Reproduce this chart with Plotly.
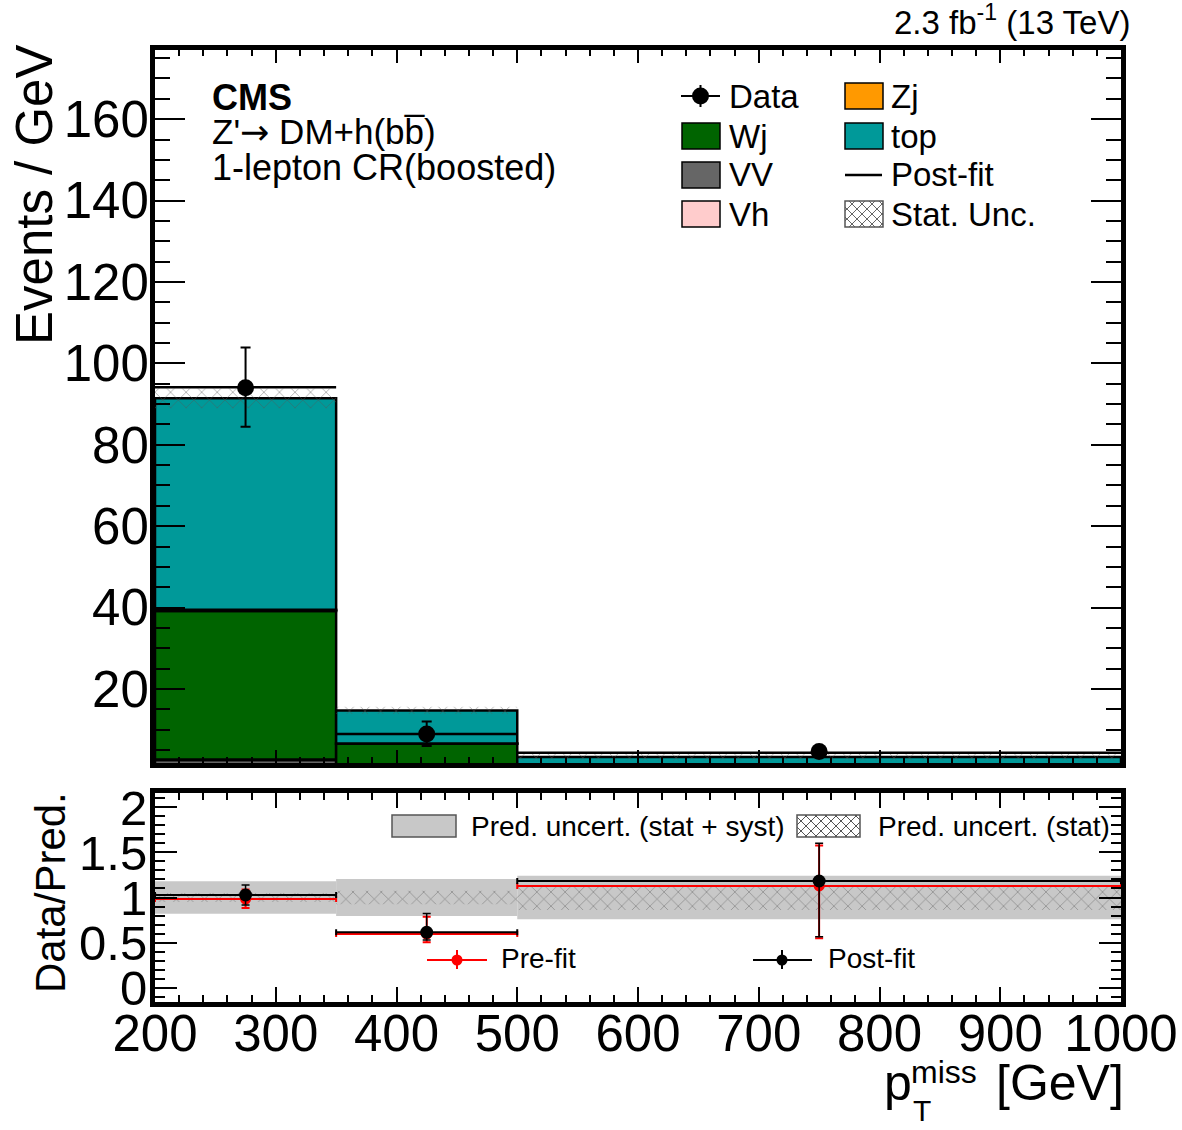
import numpy as np
import plotly.graph_objects as go

# ---------------- data ----------------
bin_edges = [200, 350, 500, 1000]
vv = [2.55, 0.2, 0.1]
vh = [0.1, 0.02, 0.01]
wj = [36.5, 6.3, 0.9]
zj = [0.3, 0.1, 0.05]
top = [51.95, 8.1, 2.24]
stat_unc = [2.4, 0.9, 0.9]
postfit = [94.1, 8.9, 4.3]
data = [94.0, 8.9, 4.6]
data_err_up = [9.9, 3.1, 0.9]
data_err_dn = [9.6, 2.9, 0.9]

ratio_post = [1.028, 0.613, 1.183]
ratio_post_up = [0.11, 0.21, 0.42]
ratio_post_dn = [0.11, 0.085, 0.62]
ratio_pre = [0.983, 0.594, 1.128]
ratio_pre_up = [0.107, 0.193, 0.45]
ratio_pre_dn = [0.10, 0.09, 0.58]
unc_syst = [0.18, 0.206, 0.242]
unc_stat = [0.05, 0.075, 0.14]

y_ticks_top = [20, 40, 60, 80, 100, 120, 140, 160]

# ---------------- layout helpers ----------------
W, H = 1182, 1130
ML, MR, MT, MB = 155, 61, 50, 128
PW = W - ML - MR
PH = H - MT - MB


def px(x):
    return (x - ML) / PW


def py(y):
    return (H - MB - y) / PH


FONT = "Liberation Sans, Arial, Helvetica, sans-serif"

edges = np.array(bin_edges, dtype=float)
centers = 0.5 * (edges[:-1] + edges[1:])
widths = np.diff(edges)
halfw = widths / 2

fig = go.Figure()

# ---------------- top panel stack ----------------
components = [
    ("VV", vv, "#666666"),
    ("Vh", vh, "#ffcccc"),
    ("Wj", wj, "#006400"),
    ("Zj", zj, "#ff9900"),
    ("top", top, "#009999"),
]
base = np.zeros(len(centers))
for name, vals, col in components:
    vals = np.array(vals, dtype=float)
    fig.add_trace(go.Bar(
        x=centers, y=vals, base=base, width=widths, name=name,
        marker=dict(color=col, line=dict(color="black", width=2.5)),
        xaxis="x", yaxis="y", showlegend=False, hoverinfo="skip"))
    base = base + vals
total = base

su = np.array(stat_unc)
fig.add_trace(go.Bar(
    x=centers, y=2 * su, base=total - su, width=widths, name="Stat. Unc.",
    marker=dict(color="rgba(0,0,0,0)", line=dict(width=0),
                pattern=dict(shape="x", fgcolor="#555555", bgcolor="rgba(0,0,0,0)",
                             size=11, solidity=0.15)),
    xaxis="x", yaxis="y", showlegend=False, hoverinfo="skip"))

# post-fit line per bin
pfx, pfy = [], []
for lo, hi, v in zip(edges[:-1], edges[1:], postfit):
    pfx += [lo, hi, None]
    pfy += [v, v, None]
fig.add_trace(go.Scatter(x=pfx, y=pfy, mode="lines", name="Post-fit",
                         line=dict(color="black", width=2.5),
                         xaxis="x", yaxis="y", showlegend=False, hoverinfo="skip"))

fig.add_trace(go.Scatter(
    x=centers, y=data, mode="markers", name="Data",
    marker=dict(color="black", size=17, symbol="circle"),
    error_y=dict(type="data", symmetric=False, array=data_err_up, arrayminus=data_err_dn,
                 color="black", thickness=2, width=5),
    xaxis="x", yaxis="y", showlegend=False, hoverinfo="skip"))

# ---------------- bottom panel ----------------
us = np.array(unc_syst)
fig.add_trace(go.Bar(
    x=centers, y=2 * us, base=1 - us, width=widths, name="Pred. uncert. (stat + syst)",
    marker=dict(color="#c8c8c8", line=dict(width=0)),
    xaxis="x2", yaxis="y2", showlegend=False, hoverinfo="skip"))
ut = np.array(unc_stat)
fig.add_trace(go.Bar(
    x=centers, y=2 * ut, base=1 - ut, width=widths, name="Pred. uncert. (stat)",
    marker=dict(color="rgba(0,0,0,0)", line=dict(width=0),
                pattern=dict(shape="x", fgcolor="#333333", bgcolor="rgba(0,0,0,0)",
                             size=10, solidity=0.12)),
    xaxis="x2", yaxis="y2", showlegend=False, hoverinfo="skip"))

fig.add_trace(go.Scatter(
    x=centers, y=ratio_pre, mode="markers", name="Pre-fit",
    marker=dict(color="red", size=11),
    error_x=dict(type="data", array=halfw, color="red", thickness=2, width=3),
    error_y=dict(type="data", symmetric=False, array=ratio_pre_up, arrayminus=ratio_pre_dn,
                 color="red", thickness=2, width=4),
    xaxis="x2", yaxis="y2", showlegend=False, hoverinfo="skip"))
fig.add_trace(go.Scatter(
    x=centers, y=ratio_post, mode="markers", name="Post-fit",
    marker=dict(color="black", size=13),
    error_x=dict(type="data", array=halfw, color="black", thickness=2, width=3),
    error_y=dict(type="data", symmetric=False, array=ratio_post_up, arrayminus=ratio_post_dn,
                 color="black", thickness=1.5, width=4),
    xaxis="x2", yaxis="y2", showlegend=False, hoverinfo="skip"))

# ---------------- axes ----------------
common = dict(showline=True, linewidth=5, linecolor="black", mirror="allticks",
              showgrid=False, zeroline=False, ticks="inside", tickcolor="black",
              tickwidth=1.5, automargin=False, ticklabeloverflow="allow")

fig.update_layout(
    width=W, height=H, autosize=False,
    margin=dict(l=ML, r=MR, t=MT, b=MB, autoexpand=False),
    paper_bgcolor="white", plot_bgcolor="white",
    barmode="overlay", showlegend=False,
    font=dict(family=FONT, color="black"),
    xaxis=dict(domain=[0, 1], range=[200, 1000], anchor="y", showticklabels=False,
               dtick=100, tick0=0, ticklen=13,
               minor=dict(ticks="inside", ticklen=6, dtick=20, tickwidth=1.5, tickcolor="black"),
               **common),
    yaxis=dict(domain=[py(763), 1], range=[1.8, 177.0], anchor="x",
               tickmode="array", tickvals=y_ticks_top, ticklen=30,
               tickfont=dict(family=FONT, size=51, color="black"), ticklabelstandoff=-9,
               minor=dict(ticks="inside", ticklen=15, dtick=5, tickwidth=1.5, tickcolor="black"),
               **common),
    xaxis2=dict(domain=[0, 1], range=[200, 1000], anchor="y2", matches="x",
                dtick=100, tick0=0, ticklen=15,
                tickfont=dict(family=FONT, size=51, color="black"), ticklabelstandoff=-17,
                minor=dict(ticks="inside", ticklen=7, dtick=20, tickwidth=1.5, tickcolor="black"),
                **common),
    yaxis2=dict(domain=[0, py(793)], range=[-0.16, 2.16], anchor="x2",
                dtick=0.5, tick0=0, ticklen=22,
                tickfont=dict(family=FONT, size=49, color="black"), ticklabelstandoff=-7,
                minor=dict(ticks="inside", ticklen=10, dtick=0.1, tickwidth=1.5, tickcolor="black"),
                **common),
)

# ---------------- text ----------------
anns = []


def ann(text, x, y, size, xanchor="left", yanchor="middle", angle=0, color="black"):
    anns.append(dict(text=text, x=px(x), y=py(y), xref="paper", yref="paper",
                     xanchor=xanchor, yanchor=yanchor, showarrow=False, textangle=angle,
                     font=dict(family=FONT, size=size, color=color), borderpad=0))


ann("Events / GeV", 34, 44, 51, xanchor="center", yanchor="top", angle=-90)
ann("Data/Pred.", 50, 893, 42, xanchor="center", yanchor="middle", angle=-90)
ann("<b>CMS</b>", 211, 97, 36)
ann("Z'<span style='font-family:DejaVu Sans'>\u2192</span> DM+h(bb\u0305)", 211, 132, 35)
ann("1-lepton CR(boosted)", 211, 167, 36)
ann("2.3 fb<sup>-1</sup> (13 TeV)", 1131, 20, 33, xanchor="right")

# x-axis title p_T^miss [GeV]
ann("p", 883, 1083, 50)
ann("miss", 910, 1072, 32)
ann("T", 912, 1128, 30, yanchor="bottom")
ann("[GeV]", 995, 1083, 50)

# ---------------- custom legends ----------------
shapes = []


def rect(x0, y0, x1, y1, fill, line="black", lw=1.5):
    shapes.append(dict(type="rect", xref="paper", yref="paper",
                       x0=px(x0), x1=px(x1), y0=py(y0), y1=py(y1),
                       fillcolor=fill, line=dict(color=line, width=lw), layer="above"))


def seg(x0, y0, x1, y1, color="black", lw=2):
    shapes.append(dict(type="line", xref="paper", yref="paper",
                       x0=px(x0), x1=px(x1), y0=py(y0), y1=py(y1),
                       line=dict(color=color, width=lw), layer="above"))


def circ(xc, yc, d, color):
    r = d / 2
    shapes.append(dict(type="circle", xref="paper", yref="paper",
                       x0=px(xc - r), x1=px(xc + r), y0=py(yc + r), y1=py(yc - r),
                       fillcolor=color, line=dict(color=color, width=0), layer="above"))


def hatch(x0, y0, x1, y1, s, color="#666666"):
    c = x0 - y1
    while c <= x1 - y0:
        xa = max(x0, y0 + c)
        xb = min(x1, y1 + c)
        if xb > xa:
            seg(xa, xa - c, xb, xb - c, color, 1)
        c += s
    c = x0 + y0
    while c <= x1 + y1:
        xa = max(x0, c - y1)
        xb = min(x1, c - y0)
        if xb > xa:
            seg(xa, c - xa, xb, c - xb, color, 1)
        c += s
    rect(x0, y0, x1, y1, "rgba(0,0,0,0)", "#555555", 1.5)


LF = 33
rows = [96, 136, 175, 214]
# column 1
seg(681, rows[0], 720, rows[0], "black", 2)
seg(700.5, rows[0] - 11, 700.5, rows[0] + 11, "black", 2)
circ(700.5, rows[0], 17, "black")
ann("Data", 728, rows[0], LF)
for (name, col), yy in zip([("Wj", "#006400"), ("VV", "#666666"), ("Vh", "#ffcccc")], rows[1:]):
    rect(682, yy - 13, 720, yy + 13, col)
    ann(name, 728, yy, LF)
# column 2
rect(845, rows[0] - 13, 883, rows[0] + 13, "#ff9900")
ann("Zj", 890, rows[0], LF)
rect(845, rows[1] - 13, 883, rows[1] + 13, "#009999")
ann("top", 890, rows[1], LF)
seg(845, rows[2], 882, rows[2], "black", 2.5)
ann("Post-fit", 890, rows[2], LF)
hatch(845, rows[3] - 13, 883, rows[3] + 13, 10)
ann("Stat. Unc.", 890, rows[3], LF)

# bottom legend
BF = 28
rect(392, 815, 456, 837, "#c8c8c8", "#555555", 1.5)
ann("Pred. uncert. (stat + syst)", 470, 826, BF)
hatch(797, 815, 860, 837, 10, "#555555")
ann("Pred. uncert. (stat)", 877, 826, BF)

seg(427, 960, 487, 960, "red", 2)
seg(457, 950, 457, 969, "red", 2)
circ(457, 960, 11, "red")
ann("Pre-fit", 500, 958, BF)
seg(753, 960, 812, 960, "black", 2)
seg(782, 950, 782, 969, "black", 2)
circ(782, 960, 11, "black")
ann("Post-fit", 827, 958, BF)

fig.update_layout(annotations=anns, shapes=shapes)

fig.write_html("out.html")
